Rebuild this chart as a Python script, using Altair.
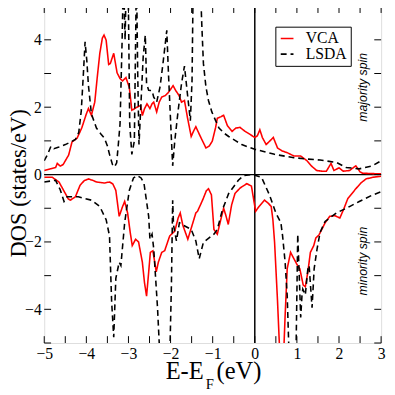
import altair as alt
import pandas as pd

# ---- data ----
vca_up_x = [-5.00, -4.85, -4.73, -4.69, -4.62, -4.55, -4.42, -4.34, -4.22, -4.11, -4.00, -3.95, -3.88, -3.80,
            -3.74, -3.68, -3.62, -3.58, -3.53, -3.47, -3.43, -3.35, -3.27, -3.20, -3.14, -3.06, -2.98, -2.92,
            -2.86, -2.80, -2.71, -2.67, -2.62, -2.56, -2.49, -2.44, -2.40, -2.33, -2.27, -2.21, -2.12, -2.05,
            -1.94, -1.88, -1.80, -1.74, -1.67, -1.60, -1.51, -1.45, -1.40, -1.30, -1.16, -1.08, -1.01, -0.93,
            -0.89, -0.80, -0.74, -0.65, -0.54, -0.45, -0.35, -0.25, -0.16, 0.00, 0.06, 0.12, 0.18, 0.27, 0.36,
            0.44, 0.54, 0.65, 0.77, 0.93, 1.09, 1.24, 1.35, 1.47, 1.60, 1.70, 1.81, 1.88, 2.00, 2.10, 2.25,
            2.40, 2.50, 2.56, 3.00]
vca_up_y = [0.12, 0.17, 0.21, 0.33, 0.25, 0.30, 0.58, 0.97, 1.08, 1.38, 1.80, 1.96, 1.76, 2.15,
            2.90, 3.60, 4.05, 4.14, 3.99, 3.27, 3.30, 3.60, 3.02, 2.85, 2.78, 2.88, 2.59, 1.91,
            1.95, 2.00, 2.05, 1.75, 1.95, 2.10, 1.96, 2.10, 2.15, 1.86, 2.15, 2.30, 2.35, 2.44,
            2.64, 2.50, 2.35, 2.15, 2.20, 1.70, 1.13, 1.30, 1.42, 1.15, 0.79, 0.85, 0.99, 1.40,
            1.67, 1.72, 1.76, 1.45, 1.28, 1.38, 1.40, 1.30, 1.23, 1.10, 1.15, 1.33, 1.10, 0.89, 1.00,
            1.10, 0.79, 0.70, 0.65, 0.55, 0.55, 0.41, 0.25, 0.12, 0.10, 0.10, 0.33, 0.12, 0.20, 0.10, 0.12,
            0.26, 0.08, 0.04, 0.02]

lsda_up_x = [-5.00, -4.92, -4.84, -4.77, -4.65, -4.50, -4.38, -4.26, -4.18, -4.12, -4.07, -4.03, -3.99, -3.95,
             -3.88, -3.76, -3.65, -3.57, -3.50, -3.45, -3.38, -3.33, -3.28, -3.24, -3.20, -3.15, -3.12, -3.08,
             -3.05, -3.01, -2.97, -2.92, -2.86, -2.81, -2.78, -2.75, -2.70, -2.65, -2.60, -2.57, -2.52, -2.44,
             -2.40, -2.33, -2.25, -2.18, -2.09, -2.05, -2.00, -1.95, -1.90, -1.82, -1.74, -1.67, -1.60, -1.53,
             -1.49, -1.46, -1.42, -1.38, -1.34, -1.30, -1.26, -1.22, -1.16, -1.10, -1.02, -0.93, -0.85, -0.72,
             -0.62, -0.45, -0.31, 0.00, 0.47, 0.93, 1.25, 1.55, 1.94, 2.17, 2.48, 2.79, 3.00]
lsda_up_y = [0.41, 0.60, 0.84, 0.77, 0.82, 0.89, 0.96, 1.04, 1.25, 1.90, 3.00, 3.94, 3.40, 2.64,
             1.80, 1.38, 1.20, 1.08, 0.85, 0.60, 0.30, 0.23, 0.35, 0.90, 1.50, 4.00, 6.00, 4.00,
             6.00, 6.00, 1.50, 0.60, 1.00, 6.00, 3.00, 0.89, 2.20, 3.50, 4.14, 2.70, 2.50, 2.49,
             2.30, 2.15, 2.60, 3.30, 4.28, 3.00, 1.60, 0.26, 1.00, 1.90, 2.70, 3.22, 2.40, 1.60,
             2.80, 6.00, 6.00, 6.00, 5.50, 6.00, 4.50, 3.30, 2.60, 2.20, 1.86, 1.60, 1.38, 1.22,
             1.13, 1.00, 0.89, 0.75, 0.60, 0.50, 0.46, 0.43, 0.36, 0.21, 0.17, 0.26, 0.41]

vca_dn_x = [-5.00, -4.81, -4.65, -4.50, -4.43, -4.38, -4.26, -4.15, -4.05, -3.95, -3.85, -3.76, -3.57, -3.45,
            -3.37, -3.30, -3.22, -3.14, -3.09, -3.02, -2.96, -2.91, -2.83, -2.76, -2.67, -2.62, -2.57, -2.52,
            -2.48, -2.42, -2.34, -2.29, -2.21, -2.14, -2.02, -1.90, -1.82, -1.77, -1.71, -1.59, -1.47, -1.40,
            -1.36, -1.24, -1.15, -1.10, -1.03, -0.97, -0.89, -0.80, -0.74, -0.69, -0.63, -0.55, -0.47, -0.35,
            -0.19, -0.08, 0.02, 0.10, 0.23, 0.32, 0.39, 0.43, 0.47, 0.54, 0.60, 0.68, 0.72, 0.77, 0.85, 0.93,
            1.01, 1.07, 1.15, 1.20, 1.26, 1.32, 1.40, 1.45, 1.52, 1.59, 1.67, 1.78, 1.90, 2.02, 2.12, 2.21,
            2.40, 2.52, 2.64, 2.80, 3.00]
vca_dn_y = [-0.08, -0.08, -0.22, -0.56, -0.72, -0.76, -0.66, -0.32, -0.18, -0.13, -0.17, -0.22, -0.25, -0.22,
            -0.28, -0.47, -1.24, -0.95, -0.80, -1.14, -1.70, -2.11, -1.92, -2.00, -2.60, -3.20, -3.61, -2.90,
            -2.31, -2.26, -2.89, -2.60, -2.31, -2.26, -1.82, -1.68, -1.29, -1.14, -1.50, -1.92, -1.43, -1.14,
            -1.09, -0.76, -0.48, -0.42, -0.60, -1.63, -1.77, -1.30, -1.00, -1.20, -1.48, -0.90, -0.56, -0.40,
            -0.27, -0.34, -1.09, -0.95, -0.76, -0.85, -0.95, -1.34, -2.01, -3.76, -5.50, -5.50, -4.20, -2.79,
            -2.31, -2.50, -2.69, -2.80, -3.28, -3.33, -2.89, -2.31, -2.11, -1.88, -1.80, -1.63, -1.43, -1.24,
            -1.22, -1.29, -1.00, -0.71, -0.42, -0.25, -0.13, -0.08, -0.05]

lsda_dn_x = [-5.00, -4.73, -4.62, -4.53, -4.46, -4.19, -3.88, -3.68, -3.53, -3.45, -3.40, -3.35, -3.30, -3.22,
             -3.18, -3.09, -2.98, -2.88, -2.79, -2.70, -2.63, -2.52, -2.49, -2.44, -2.40, -2.31, -2.25, -2.02,
             -1.98, -1.95, -1.93, -1.86, -1.79, -1.73, -1.51, -1.40, -1.32, -1.22, -0.97, -0.89, -0.77, -0.62,
             -0.39, -0.27, -0.05, 0.16, 0.35, 0.50, 0.62, 0.66, 0.72, 0.77, 0.81, 0.90, 0.98, 1.00, 1.02,
             1.05, 1.09, 1.12, 1.14, 1.20, 1.26, 1.29, 1.36, 1.41, 1.48, 1.55, 1.67, 1.94, 2.25, 2.48, 2.79,
             3.00]
lsda_dn_y = [-0.22, -0.17, -0.45, -0.80, -0.66, -0.66, -0.76, -0.95, -1.34, -1.82, -3.76, -4.83, -3.08, -2.60,
             -2.70, -1.43, -0.47, -0.10, -0.03, -0.10, -0.27, -1.24, -1.92, -1.77, -2.20, -3.95, -5.50, -5.50,
             -3.28, -0.76, -1.50, -1.97, -1.43, -1.48, -1.63, -1.97, -2.50, -2.01, -1.77, -1.63, -1.05, -0.56,
             -0.17, -0.03, 0.00, -0.08, -0.61, -1.14, -1.43, -1.82, -2.60, -3.60, -5.20, -5.50, -5.20, -3.50,
             -1.77, -2.80, -4.24, -3.60, -3.40, -3.57, -2.80, -2.70, -3.95, -2.79, -2.20, -1.72, -1.39, -1.14,
             -0.95, -0.80, -0.61, -0.51]

series_names = ["VCA", "LSDA"]
series_colors = ["#ff0000", "#000000"]
x_ticks = [-5 + 0.5 * i for i in range(17)]
y_ticks = list(range(-5, 6))
x_labels = [-5, -4, -3, -2, -1, 0, 1, 2, 3]
y_labels = [-4, -2, 0, 2, 4]
spin_text = ["majority spin", "minority spin"]
spin_x = [2.58, 2.58]
spin_y = [2.59, -2.57]

# ---- build table ----
rows = []
for name, spin, xs, ys in [("VCA", "up", vca_up_x, vca_up_y), ("LSDA", "up", lsda_up_x, lsda_up_y),
                           ("VCA", "down", vca_dn_x, vca_dn_y), ("LSDA", "down", lsda_dn_x, lsda_dn_y)]:
    for i, (a, b) in enumerate(zip(xs, ys)):
        rows.append({"x": a, "y": b, "series": name, "spin": spin, "i": i})
df = pd.DataFrame(rows)

W, H = 344, 344
serif = "Liberation Serif"
sans = "Liberation Sans"

xscale = alt.Scale(domain=[-5, 3], nice=False, zero=False)
yscale = alt.Scale(domain=[-5, 5], nice=False, zero=False)

legend = alt.Legend(title=None, orient="none", legendX=236, legendY=21, padding=4,
                    fillColor="white", strokeColor="black", symbolType="stroke", symbolSize=169,
                    symbolStrokeWidth=1.6, labelFont=serif, labelFontSize=16, labelColor="black",
                    labelOffset=11, rowPadding=-3)

lines = alt.Chart(df).mark_line(clip=True, strokeWidth=1.6).encode(
    x=alt.X("x:Q", scale=xscale,
            axis=alt.Axis(values=x_labels, ticks=False, domain=False, grid=False, title=None,
                          labelFont=serif, labelFontSize=16, labelColor="black", labelPadding=3,
                          labelFlush=False, labelOverlap=False, format="d")),
    y=alt.Y("y:Q", scale=yscale,
            axis=alt.Axis(values=y_labels, ticks=False, domain=False, grid=False,
                          title="DOS (states/eV)", titleFont=serif, titleFontSize=23,
                          titleFontWeight="normal", titleColor="black", titleAngle=270,
                          titleAlign="center", titleBaseline="alphabetic", titleX=-19, titleY=180.5,
                          labelFont=serif, labelFontSize=16, labelColor="black", labelPadding=3,
                          labelFlush=False, labelOverlap=False, format="d")),
    color=alt.Color("series:N", scale=alt.Scale(domain=series_names, range=series_colors), legend=legend),
    strokeDash=alt.StrokeDash("series:N", scale=alt.Scale(domain=series_names, range=[[1, 0], [6, 4]]),
                              legend=legend),
    detail="spin:N",
    order="i:Q",
)

zero_h = alt.Chart(pd.DataFrame({"v": [0]})).mark_rule(color="black", strokeWidth=1.2).encode(y="v:Q")
zero_v = alt.Chart(pd.DataFrame({"v": [0]})).mark_rule(color="black", strokeWidth=1.5).encode(x="v:Q")

xt = pd.DataFrame({"v": x_ticks})
yt = pd.DataFrame({"v": y_ticks})
tick_b = alt.Chart(xt).mark_rule(color="black", strokeWidth=1).encode(x="v:Q", y=alt.value(H), y2=alt.value(H - 7))
tick_t = alt.Chart(xt).mark_rule(color="black", strokeWidth=1).encode(x="v:Q", y=alt.value(0), y2=alt.value(7))
tick_l = alt.Chart(yt).mark_rule(color="black", strokeWidth=1).encode(y="v:Q", x=alt.value(0), x2=alt.value(7))
tick_r = alt.Chart(yt).mark_rule(color="black", strokeWidth=1).encode(y="v:Q", x=alt.value(W), x2=alt.value(W - 7))

spin = alt.Chart(pd.DataFrame({"t": spin_text, "x": spin_x, "y": spin_y})).mark_text(
    font=sans, fontStyle="italic", fontSize=12.5, angle=270, align="center",
    baseline="middle", color="black").encode(x="x:Q", y="y:Q", text="t:N")

xtitle_parts = ["E-E", "F", "(eV)"]
t1 = alt.Chart(pd.DataFrame({"t": [xtitle_parts[0]]})).mark_text(
    font=serif, fontSize=25, align="left", baseline="alphabetic", color="black").encode(
    x=alt.value(124), y=alt.value(381), text="t:N")
t2 = alt.Chart(pd.DataFrame({"t": [xtitle_parts[1]]})).mark_text(
    font=serif, fontSize=15, align="left", baseline="alphabetic", color="black").encode(
    x=alt.value(165), y=alt.value(391), text="t:N")
t3 = alt.Chart(pd.DataFrame({"t": [xtitle_parts[2]]})).mark_text(
    font=serif, fontSize=25, align="left", baseline="alphabetic", color="black").encode(
    x=alt.value(176), y=alt.value(381), text="t:N")

chart = alt.layer(zero_h, zero_v, lines, tick_b, tick_t, tick_l, tick_r, spin, t1, t2, t3).properties(
    width=W, height=H, autosize="none",
    padding={"left": 37, "top": -6, "right": 6, "bottom": 49},
).configure_view(stroke="black", strokeWidth=1.5).configure(background="white")

chart.save("out.html", embed_options={"renderer": "svg", "actions": False})
